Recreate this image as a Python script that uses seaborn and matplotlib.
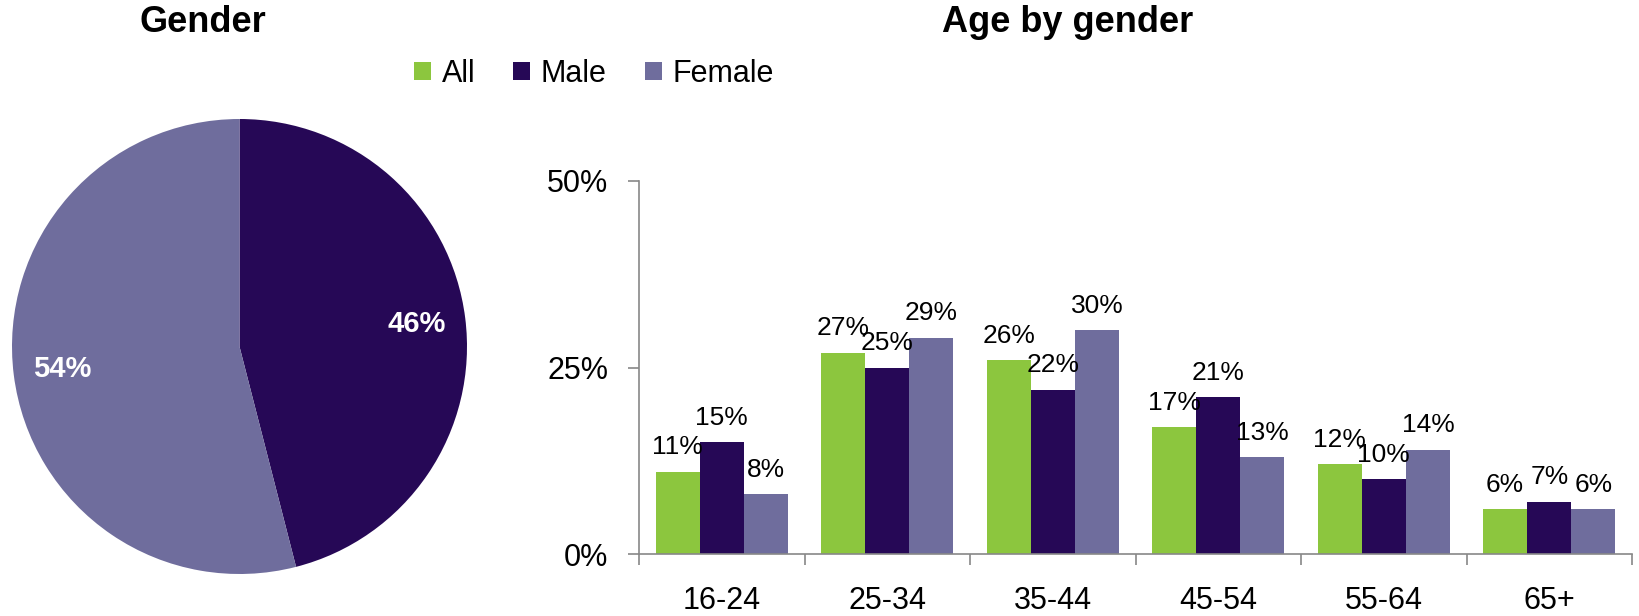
import numpy as np
import pandas as pd
import matplotlib
matplotlib.use("Agg")
import matplotlib.pyplot as plt
import seaborn as sns

# -----------------------------
# DATA
# -----------------------------
gender_labels = ["Male", "Female"]
gender_share = [46, 54]

age_groups = ["16-24", "25-34", "35-44", "45-54", "55-64", "65+"]
all_pct = [11, 27, 26, 17, 12, 6]
male_pct = [15, 25, 22, 21, 10, 7]
female_pct = [8, 29, 30, 13, 14, 6]

series = ["All", "Male", "Female"]
colors = {"All": "#8cc63e", "Male": "#260856", "Female": "#6f6d9d"}

# -----------------------------
# STYLE
# -----------------------------
sns.set_theme(style="white")
plt.rcParams["font.family"] = ["Liberation Sans", "DejaVu Sans"]
plt.rcParams["text.color"] = "black"
plt.rcParams["xtick.color"] = "black"
plt.rcParams["ytick.color"] = "black"

W, H = 1639, 616
fig = plt.figure(figsize=(W / 100, H / 100), dpi=100)

# -----------------------------
# PIE
# -----------------------------
ax_pie = fig.add_axes([12 / W, (H - 574) / H, 455 / W, 455 / H])
wedges, _, autotexts = ax_pie.pie(
    gender_share,
    colors=[colors["Male"], colors["Female"]],
    startangle=90,
    counterclock=False,
    autopct="%d%%",
    pctdistance=0.785,
    wedgeprops={"linewidth": 0},
    textprops={"color": "white", "fontsize": 21, "fontweight": "bold"},
)
ax_pie.set_xlim(-1, 1)
ax_pie.set_ylim(-1, 1)
ax_pie.set_aspect("equal")
for w in wedges:
    w.set_clip_on(False)

fig.text(203 / W, 1 - 22 / H, "Gender", ha="center", va="center",
         fontsize=26, fontweight="bold", color="black")

# -----------------------------
# BARS
# -----------------------------
df = pd.DataFrame({
    "Age": age_groups * 3,
    "Series": ["All"] * 6 + ["Male"] * 6 + ["Female"] * 6,
    "Pct": all_pct + male_pct + female_pct,
})

ax = fig.add_axes([639 / W, (H - 554) / H, (1632 - 639) / W, (554 - 181) / H])
sns.barplot(data=df, x="Age", y="Pct", hue="Series", hue_order=series,
            palette=colors, width=0.8, saturation=1, linewidth=0, ax=ax)

for c in ax.containers:
    ax.bar_label(c, fmt="%d%%", padding=9, fontsize=19, color="black")

ax.set_xlim(-0.5, len(age_groups) - 0.5)
ax.set_ylim(0, 50)
ax.set_yticks([0, 25, 50])
ax.set_yticklabels(["0%", "25%", "50%"], fontsize=22)
ax.set_xlabel("")
ax.set_ylabel("")

ax.set_xticks(range(len(age_groups)))
ax.set_xticklabels(age_groups, fontsize=22)
ax.set_xticks(np.arange(-0.5, len(age_groups)), minor=True)
ax.tick_params(axis="x", which="major", length=0, pad=23, labelcolor="black")
ax.tick_params(axis="x", which="minor", length=8, width=1.2,
               color="#888888", direction="out", bottom=True)
ax.tick_params(axis="y", length=8, width=1.2, color="#888888",
               direction="out", left=True, pad=14, labelcolor="black")

for side in ["top", "right"]:
    ax.spines[side].set_visible(False)
for side in ["left", "bottom"]:
    ax.spines[side].set_color("#888888")
    ax.spines[side].set_linewidth(1.2)

leg = ax.legend(loc="center", bbox_to_anchor=(594 / W, 1 - 74 / H),
                bbox_transform=fig.transFigure, ncol=3, frameon=False,
                fontsize=22, handlelength=0.55, handleheight=0.55,
                handletextpad=0.35, columnspacing=1.25)
for t in leg.get_texts():
    t.set_color("black")

fig.text(1068 / W, 1 - 22 / H, "Age by gender", ha="center", va="center",
         fontsize=26, fontweight="bold", color="black")

fig.savefig("out.png", dpi=100)
